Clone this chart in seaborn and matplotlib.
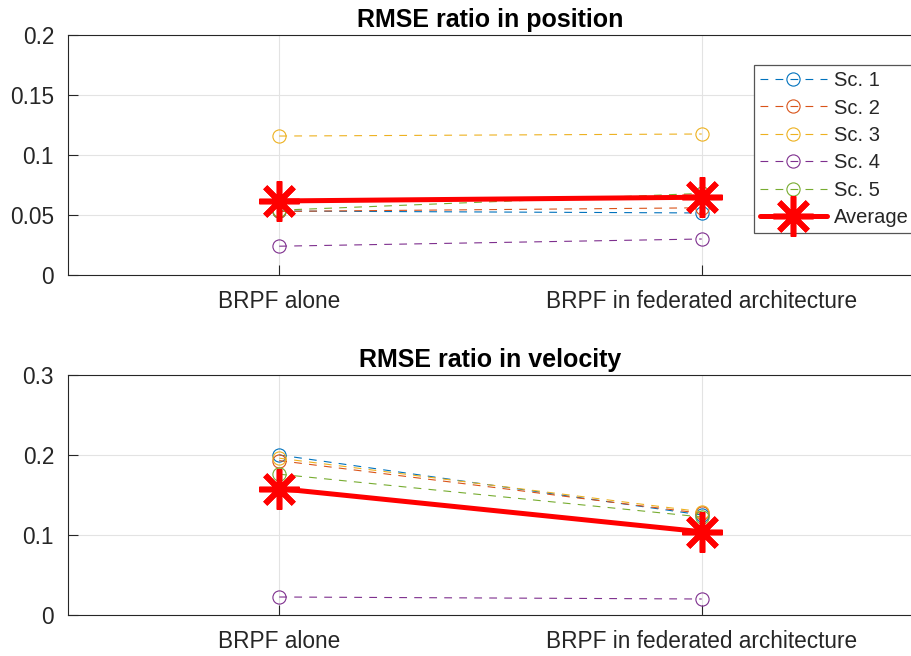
import matplotlib
matplotlib.use("Agg")
import matplotlib.pyplot as plt
import seaborn as sns
import pandas as pd

categories = ["BRPF alone", "BRPF in federated architecture"]
scenarios = ["Sc. 1", "Sc. 2", "Sc. 3", "Sc. 4", "Sc. 5"]

pos_sc1 = [0.0533, 0.0517]
pos_sc2 = [0.0530, 0.0560]
pos_sc3 = [0.1158, 0.1175]
pos_sc4 = [0.0240, 0.0300]
pos_sc5 = [0.0540, 0.0680]
pos_avg = [0.0617, 0.0648]

vel_sc1 = [0.2000, 0.1250]
vel_sc2 = [0.1930, 0.1270]
vel_sc3 = [0.1960, 0.1290]
vel_sc4 = [0.0225, 0.0200]
vel_sc5 = [0.1760, 0.1225]
vel_avg = [0.1580, 0.1040]

pos_ticks = [0, 0.05, 0.1, 0.15, 0.2]
pos_ticklabels = ["0", "0.05", "0.1", "0.15", "0.2"]
vel_ticks = [0, 0.1, 0.2, 0.3]
vel_ticklabels = ["0", "0.1", "0.2", "0.3"]

colors = ["#0072BD", "#D95319", "#EDB120", "#7E2F8E", "#77AC30"]

sns.set_style("white")
plt.rcParams["font.family"] = ["Liberation Sans", "DejaVu Sans"]

fig = plt.figure(figsize=(9.11, 6.56), dpi=100)
W, H = 911, 656
ax1 = fig.add_axes([68 / W, 1 - 275 / H, (913 - 68) / W, 240 / H])
ax2 = fig.add_axes([68 / W, 1 - 615 / H, (913 - 68) / W, 240 / H])

axc = "#262626"

def draw(ax, series, avg, title, ticks, ticklabels, ylim):
    x = [1, 2]
    for name, vals, c in zip(scenarios, series, colors):
        df = pd.DataFrame({"x": x, "y": vals})
        sns.lineplot(data=df, x="x", y="y", ax=ax, color=c, linestyle=(0, (7, 6.5)),
                     linewidth=0.8, marker="o", markersize=9.5,
                     markerfacecolor="none", markeredgecolor=c,
                     markeredgewidth=0.8, label=name, zorder=3)
    df = pd.DataFrame({"x": x, "y": avg})
    sns.lineplot(data=df, x="x", y="y", ax=ax, color="red", linewidth=3.6,
                 marker=(8, 2, 0), markersize=29, markeredgecolor="red",
                 markeredgewidth=4, label="Average", zorder=4)
    ax.set_xlim(0.5, 2.5)
    ax.set_ylim(*ylim)
    ax.set_xticks(x)
    ax.set_xticklabels(categories, fontsize=16.3, color=axc)
    ax.set_yticks(ticks)
    ax.set_yticklabels(ticklabels, fontsize=16.3, color=axc)
    ax.set_xlabel("")
    ax.set_ylabel("")
    ax.grid(True, color="#e3e3e3", linewidth=0.8, zorder=0)
    ax.set_axisbelow(True)
    ax.tick_params(direction="in", length=7, width=0.8, color=axc, pad=10,
                   bottom=True, left=True, top=False, right=False)
    ax.tick_params(axis="x", pad=11)
    for s in ax.spines.values():
        s.set_color(axc)
        s.set_linewidth(0.8)
    ax.set_title(title, fontsize=18, fontweight="bold", pad=6, color="black")

draw(ax1, [pos_sc1, pos_sc2, pos_sc3, pos_sc4, pos_sc5], pos_avg,
     "RMSE ratio in position", pos_ticks, pos_ticklabels, (0, 0.2))
draw(ax2, [vel_sc1, vel_sc2, vel_sc3, vel_sc4, vel_sc5], vel_avg,
     "RMSE ratio in velocity", vel_ticks, vel_ticklabels, (0, 0.3))

ax2.get_legend().remove()
ax1.get_legend().remove()
h, l = ax1.get_legend_handles_labels()
leg = ax1.legend(h, l, loc="upper left", bbox_to_anchor=(754 / W, 1 - 65 / H),
                 bbox_transform=fig.transFigure, fontsize=14.5, frameon=True,
                 fancybox=False, edgecolor="#555555", framealpha=1,
                 handlelength=3.3, handletextpad=0.35, labelspacing=0.42,
                 borderpad=0.3, borderaxespad=0)
leg.get_frame().set_linewidth(0.9)

fig.savefig("out.png", dpi=100)
